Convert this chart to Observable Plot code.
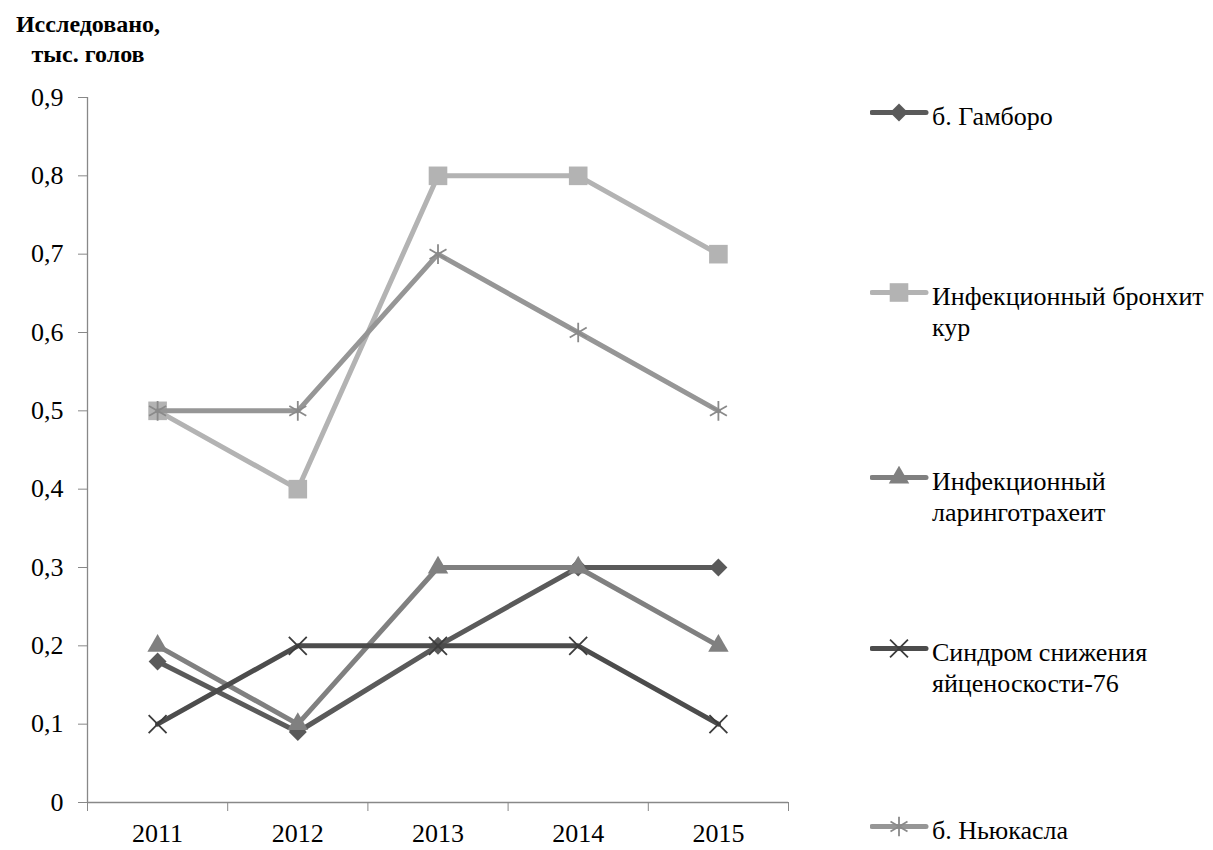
<!DOCTYPE html>
<html>
<head>
<meta charset="utf-8">
<script src="https://cdn.jsdelivr.net/npm/d3@7"></script>
<script src="https://cdn.jsdelivr.net/npm/@observablehq/plot@0.6"></script>
<style>
  html, body { margin: 0; padding: 0; background: #fff; }
  #wrap { position: relative; width: 1213px; height: 850px; font-family: 'Liberation Serif', 'Times New Roman', Tinos; }
  #title { position: absolute; left: 0; top: 9px; width: 176px; text-align: center; font-weight: bold; font-size: 24px; line-height: 30px; color: #000; }
  .leg { position: absolute; left: 870px; width: 343px; font-size: 26px; line-height: 31px; color: #000; }
  .leg svg { position: absolute; left: 0; top: 0; }
  .leg .txt { margin-left: 62px; }
  [aria-label="y-axis tick"], [aria-label="x-axis tick"] { stroke: #888; }
</style>
</head>
<body>
<div id="wrap">
  <div id="title">Исследовано,<br>тыс. голов</div>
</div>
<script>
const years = [2011, 2012, 2013, 2014, 2015];
const seriesNames = ["б. Гамборо", "Инфекционный бронхит кур", "Инфекционный ларинготрахеит", "Синдром снижения яйценоскости-76", "б. Ньюкасла"];
const legendLines = [["б. Гамборо"], ["Инфекционный бронхит", "кур"], ["Инфекционный", "ларинготрахеит"], ["Синдром снижения", "яйценоскости-76"], ["б. Ньюкасла"]];
const gamboro   = [0.18, 0.09, 0.2, 0.3, 0.3];
const bronchit  = [0.5, 0.4, 0.8, 0.8, 0.7];
const laryngo   = [0.2, 0.1, 0.3, 0.3, 0.2];
const syndrome  = [0.1, 0.2, 0.2, 0.2, 0.1];
const newcastle = [0.5, 0.5, 0.7, 0.6, 0.5];
const yTicks = [0, 0.1, 0.2, 0.3, 0.4, 0.5, 0.6, 0.7, 0.8, 0.9];

const values = [gamboro, bronchit, laryngo, syndrome, newcastle];
const colors = ["#5a5a5a", "#b3b3b3", "#808080", "#4c4c4c", "#969696"];
const markerColors = ["#5a5a5a", "#b3b3b3", "#808080", "#3c3c3c", "#8a8a8a"];
const symbols = ["diamond2", "square", "triangle", "times", "asterisk"];
const radii = [8.1, 10.5, 7.6, 8.2, 9.3];
const filled = [true, true, true, false, false];
const legendY = [112, 292, 477, 648, 826];

const FONT = "'Liberation Serif', 'Times New Roman', Tinos";

const data = [];
seriesNames.forEach((s, i) => years.forEach((yr, j) => data.push({series: s, idx: i, year: yr, value: values[i][j]})));

const boundaries = years.map(y => y - 0.5).concat([years[years.length - 1] + 0.5]);
const fmt = d => d === 0 ? "0" : d.toFixed(1).replace(".", ",");

const marks = [
  Plot.ruleX([boundaries[0]], {stroke: "#888", strokeWidth: 1.3}),
  Plot.ruleY([0], {stroke: "#888", strokeWidth: 1.3}),
  Plot.axisY({ticks: yTicks, tickFormat: fmt, tickSize: 9, tickPadding: 15, fontSize: 26, fontFamily: FONT, label: null}),
  Plot.axisX({ticks: boundaries, tickFormat: () => "", tickSize: 9, label: null}),
  Plot.axisX({ticks: years, tickFormat: d => String(d), tickSize: 0, tickPadding: 21, fontSize: 26, fontFamily: FONT, label: null})
];
seriesNames.forEach((s, i) => {
  const d = data.filter(r => r.idx === i);
  marks.push(Plot.line(d, {x: "year", y: "value", stroke: colors[i], strokeWidth: 5, strokeLinejoin: "round"}));
  marks.push(Plot.dot(d, filled[i]
    ? {x: "year", y: "value", symbol: () => symbols[i], r: radii[i], fill: markerColors[i], stroke: "none"}
    : {x: "year", y: "value", symbol: () => symbols[i], r: radii[i], fill: "none", stroke: markerColors[i], strokeWidth: 1.8}));
});

const chart = Plot.plot({
  width: 1213,
  height: 850,
  marginLeft: 87,
  marginRight: 425,
  marginTop: 97,
  marginBottom: 48,
  style: {fontSize: "26px", fontFamily: FONT, color: "#000", background: "transparent"},
  x: {type: "linear", domain: [boundaries[0], boundaries[boundaries.length - 1]], label: null},
  y: {domain: [0, 0.9], label: null},
  symbol: {type: "identity"},
  marks
});
const wrap = document.getElementById("wrap");
wrap.insertBefore(chart, wrap.firstChild);

// Legend
seriesNames.forEach((s, i) => {
  const item = document.createElement("div");
  item.className = "leg";
  item.style.top = (legendY[i] - 11.5) + "px";
  const svg = d3.create("svg").attr("width", 62).attr("height", 31);
  svg.append("line").attr("x1", 2).attr("x2", 56).attr("y1", 11.5).attr("y2", 11.5)
    .attr("stroke", colors[i]).attr("stroke-width", 5).attr("stroke-linecap", "round");
  const symType = {diamond2: d3.symbolDiamond2, square: d3.symbolSquare, triangle: d3.symbolTriangle, times: d3.symbolTimes, asterisk: d3.symbolAsterisk}[symbols[i]];
  const path = svg.append("path").attr("transform", "translate(29,11.5)")
    .attr("d", d3.symbol(symType, radii[i] * radii[i] * Math.PI)());
  if (filled[i]) path.attr("fill", markerColors[i]);
  else path.attr("fill", "none").attr("stroke", markerColors[i]).attr("stroke-width", 1.8);
  item.appendChild(svg.node());
  const txt = document.createElement("div");
  txt.className = "txt";
  txt.innerHTML = legendLines[i].join("<br>");
  item.appendChild(txt);
  wrap.appendChild(item);
});
</script>
</body>
</html>
